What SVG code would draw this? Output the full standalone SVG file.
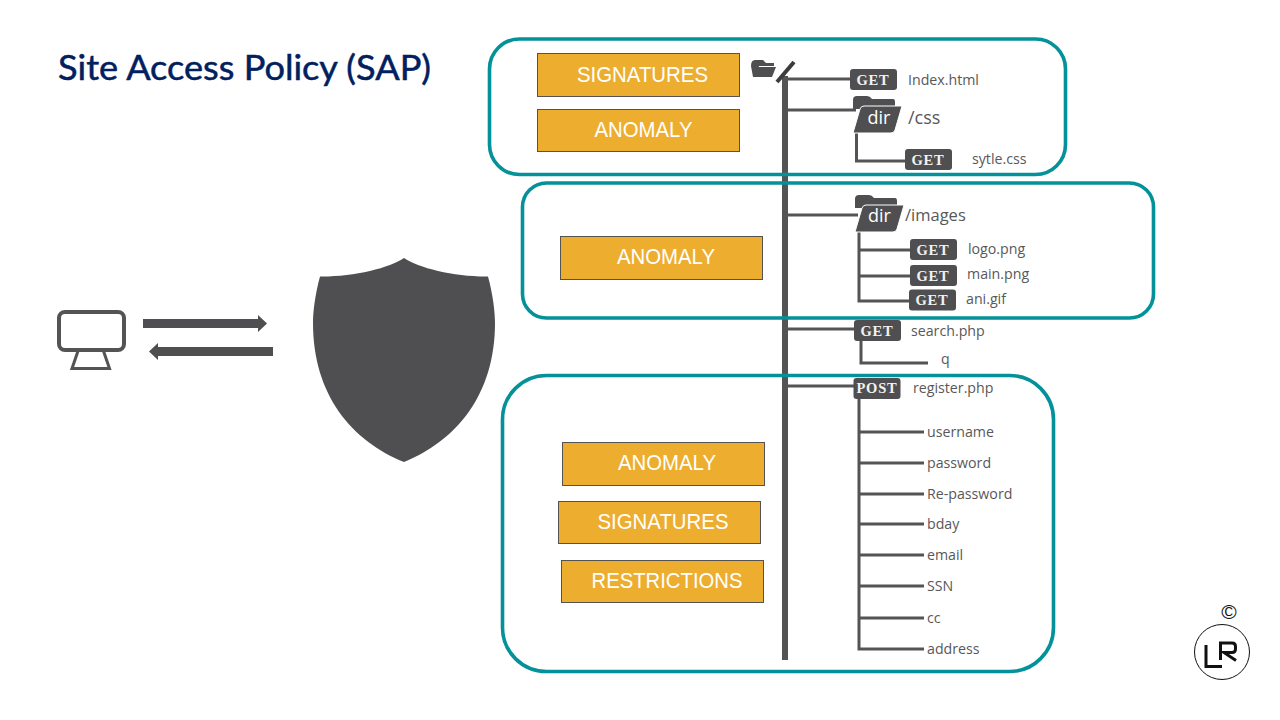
<svg xmlns="http://www.w3.org/2000/svg" width="1280" height="720" viewBox="0 0 1280 720">
<style>
text{font-family:"Open Sans","Liberation Sans",sans-serif;fill:#58585a}
.t{font-family:"Liberation Sans",Arial,sans-serif;font-size:22px;fill:#fff;text-anchor:middle}
.b{fill:#edae2f;stroke:#555350;stroke-width:1}
.g{fill:none;stroke:#04919a;stroke-width:3.600}
.l{fill:none;stroke:#545456;stroke-width:3}
.p{fill:#4f4f51}
.m{font-family:"Liberation Serif",serif;font-weight:700;font-size:14.500px;fill:#f2f2f2;text-anchor:middle;letter-spacing:.8px}
.n{font-size:14.200px}
.d{font-size:18px;fill:#fff;text-anchor:middle}
</style>
<defs>
<g id="folder"><path class="p" d="M-4 -6V-15Q-4 -19 0 -19H10Q13 -19 15 -16H36Q38 -16 38 -13V-6Z"/><path d="M-4 18L3 -6Q4 -9 7 -9H45L38 15Q37 18 34 18Z" class="p" stroke="#fff" stroke-width="1"/></g>
</defs>
<text x="58" y="80" textLength="373" lengthAdjust="spacingAndGlyphs" stroke="#002060" stroke-width=".5" style="font-family:Lato,'Liberation Sans',sans-serif;font-size:34px;font-weight:400;fill:#002060">Site Access Policy (SAP)</text>
<g id="client"><rect x="59" y="312" width="65" height="38" rx="6" fill="none" stroke="#545456" stroke-width="4"/><path d="M78 351L72 368.500H109.500L103.500 351" fill="none" stroke="#545456" stroke-width="3"/></g>
<g id="arrows"><path class="p" d="M143 319H258V315L267 323.500L258 332V328H143Z"/><path class="p" d="M273 347H158V343L149 351.500L158 360V356H273Z"/></g>
<g id="shield"><path class="p" d="M404 258C390 268 352 277 320 276.500C315 295 313 312 313 323C313 395 352 441 404 462C456 441 495 395 495 323C495 312 493 295 488 276.500C456 277 418 268 404 258Z"/></g>
<g id="connectors">
<path d="M785 76V660" fill="none" stroke="#545456" stroke-width="6"/>
<path d="M777 82L794 62" fill="none" stroke="#3c3c3e" stroke-width="4"/>
<path class="l" d="M786 79H852M787 110H856M856.500 130V161H906M788 215H858M859 230V301H912M859 250H912M859 276H912M787 329H856M861 340V363H928M787 386H856M859 398V649H924M859 432H924M859 463H924M859 494H924M859 524H924M859 555H924M859 586H924M859 618H924"/>
</g>
<g id="groups"><rect class="g" x="489.500" y="39" width="576" height="135.500" rx="30"/><rect class="g" x="522.500" y="183" width="631" height="135" rx="24"/><rect class="g" x="502.500" y="375.500" width="551" height="296" rx="44"/></g>
<g id="labels">
<rect class="b" x="537.500" y="53.500" width="202" height="43"/><text class="t" x="642.500" y="82" textLength="131" lengthAdjust="spacingAndGlyphs">SIGNATURES</text>
<rect class="b" x="537.500" y="109.500" width="202" height="42"/><text class="t" x="643.500" y="137" textLength="98" lengthAdjust="spacingAndGlyphs">ANOMALY</text>
<rect class="b" x="560.500" y="236.500" width="202" height="43"/><text class="t" x="666" y="264" textLength="98" lengthAdjust="spacingAndGlyphs">ANOMALY</text>
<rect class="b" x="562.500" y="442.500" width="202" height="43"/><text class="t" x="667" y="470" textLength="98" lengthAdjust="spacingAndGlyphs">ANOMALY</text>
<rect class="b" x="558.500" y="501.500" width="202" height="42"/><text class="t" x="663" y="529" textLength="131" lengthAdjust="spacingAndGlyphs">SIGNATURES</text>
<rect class="b" x="561.500" y="560.500" width="202" height="42"/><text class="t" x="667" y="588" textLength="151" lengthAdjust="spacingAndGlyphs">RESTRICTIONS</text>
</g>
<g id="root"><path class="p" d="M751 66Q751 60 755 60H763L766 63H774V66H759L756 77H753Z"/><path class="p" d="M755 77L758 67H776L772 77Z"/></g>
<g id="n-index"><rect class="p" x="850" y="69" width="47" height="21" rx="3"/><text class="m" x="873" y="85">GET</text><text class="n" x="908" y="85">Index.html</text></g>
<g id="n-css"><use href="#folder" x="857" y="115"/><text class="d" x="879" y="124">dir</text><text x="908" y="124" style="font-size:18px">/css</text></g>
<g id="n-style"><rect class="p" x="905" y="149" width="47" height="21" rx="3"/><text class="m" x="928" y="165">GET</text><text class="n" x="972" y="164">sytle.css</text></g>
<g id="n-images"><use href="#folder" x="859" y="214"/><text class="d" x="879.500" y="222">dir</text><text x="905" y="221" style="font-size:16.500px">/images</text></g>
<g id="n-logo"><rect class="p" x="910" y="239" width="47" height="21" rx="3"/><text class="m" x="933" y="255">GET</text><text class="n" x="968" y="254">logo.png</text></g>
<g id="n-main"><rect class="p" x="910" y="265" width="47" height="21" rx="3"/><text class="m" x="933" y="281">GET</text><text class="n" x="967" y="279">main.png</text></g>
<g id="n-ani"><rect class="p" x="909" y="289.500" width="47" height="21" rx="3"/><text class="m" x="932" y="305">GET</text><text class="n" x="966" y="304">ani.gif</text></g>
<g id="n-search"><rect class="p" x="854" y="320" width="47" height="21" rx="3"/><text class="m" x="877" y="336">GET</text><text class="n" x="911" y="336">search.php</text></g>
<g id="n-q"><text class="n" x="941" y="364">q</text></g>
<g id="n-register"><rect class="p" x="853.500" y="378" width="47" height="21" rx="3"/><text class="m" x="877" y="393">POST</text><text class="n" x="913" y="393">register.php</text></g>
<g id="params">
<text class="n" x="927" y="437">username</text><text class="n" x="927" y="468">password</text><text class="n" x="927" y="499">Re-password</text><text class="n" x="927" y="529">bday</text><text class="n" x="927" y="560">email</text><text class="n" x="927" y="591">SSN</text><text class="n" x="927" y="623">cc</text><text class="n" x="927" y="654">address</text>
</g>
<g id="logo"><circle cx="1222" cy="652" r="27.500" fill="#fff" stroke="#111" stroke-width="1"/><path d="M1206 645V666.500H1222M1220.500 660V643H1232Q1235.500 643 1235.500 646.500V649Q1235.500 652.500 1232 652.500H1224L1236 660.500" fill="none" stroke="#111" stroke-width="3"/><text x="1229" y="619" style="font-family:'Liberation Sans',sans-serif;font-size:21px;fill:#111;text-anchor:middle">©</text></g>
</svg>
